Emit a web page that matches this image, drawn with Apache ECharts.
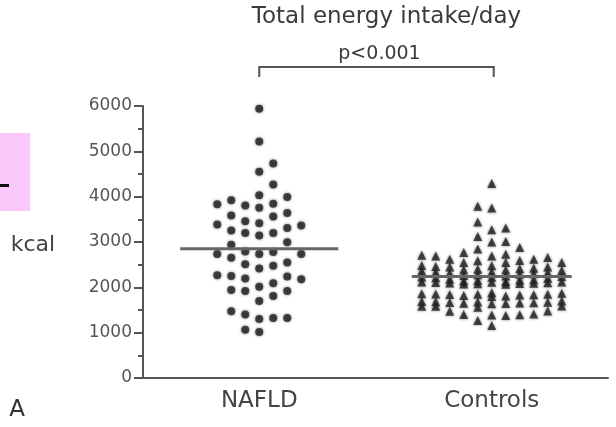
<!DOCTYPE html>
<html>
<head>
<meta charset="utf-8">
<script src="https://cdn.jsdelivr.net/npm/echarts@6/dist/echarts.min.js"></script>
<style>html,body{margin:0;padding:0;background:#fff;}#c{width:616px;height:427px;}</style>
</head>
<body>
<div id="c"></div>
<script>
// ---- data ----
const categories = ['NAFLD', 'Controls'];
const yTicks = [0, 1000, 2000, 3000, 4000, 5000, 6000];
const nafldValues = [5940, 5215, 4733, 4548, 4267, 3993, 3807, 3844, 3919, 4030, 3756, 3830,
  3563, 3585, 3637, 3415, 3252, 3363, 3200, 3311, 3385, 3141, 3459, 3200, 2941, 2993,
  2780, 2650, 2733, 2733, 2733, 2793, 2511, 2415, 2474, 2548, 2252, 2267, 2193, 2089,
  1919, 1941, 2015, 2178, 1807, 2237, 1919, 1696, 1400, 1326, 1304, 1326, 1474, 1015, 1067];
const controlsValues = [4290, 3790, 3750, 3440, 3310, 3270, 3120, 3010, 3000, 2880, 2845,
  2770, 2730, 2710, 2690, 2690, 2660, 2620, 2620, 2590, 2585, 2550, 2550, 2550, 2480,
  2475, 2460, 2450, 2450,
  2420, 2410, 2400, 2390, 2380, 2370, 2360,
  2340, 2330, 2320, 2310, 2300, 2290, 2280,
  2260, 2250, 2240, 2230, 2220, 2210, 2200,
  2180, 2170, 2160, 2150, 2140, 2130,
  2120, 2115, 2110, 2105, 2100, 2095, 2090, 2085, 2080, 2075, 2070,
  1880, 1870, 1860, 1855, 1850, 1845, 1840, 1835, 1830, 1820, 1810, 1800,
  1700, 1690, 1680, 1675, 1670, 1665, 1660, 1655, 1650, 1645, 1640,
  1590, 1585, 1580, 1560, 1480, 1470, 1410, 1400, 1395, 1390, 1380,
  1270, 1160];
const groupMeans = [2850, 2240];
const titleText = 'Total energy intake/day';
const pText = 'p<0.001';
const yName = 'kcal';
const panelLabel = 'A';

// ---- beeswarm layout (column offsets computed from the values) ----
function swarm(values, gap, maxK) {
  const sorted = values.slice().sort((a, b) => a - b);
  const cols = {};
  const out = [];
  let flip = 1;
  sorted.forEach(v => {
    const cands = [0];
    for (let k = 1; k <= maxK; k++) cands.push(flip * k, -flip * k);
    flip = -flip;
    let best = null, bestD = -1;
    for (const k of cands) {
      const arr = cols[k] || [];
      let d = Infinity;
      arr.forEach(u => { d = Math.min(d, Math.abs(u - v)); });
      if (d >= gap) { best = k; bestD = d; break; }
      if (d > bestD) { bestD = d; best = k; }
    }
    (cols[best] = cols[best] || []).push(v);
    out.push([best, v]);
  });
  return out;
}
const colStep = 0.0602;
function place(values, gi, gap, maxK) {
  return swarm(values, gap, maxK).map(p => [gi + p[0] * colStep, p[1]]);
}

const FONT = 'DejaVu Sans';
const AX = '#555';
const chart = echarts.init(document.getElementById('c'), null, { renderer: 'canvas' });
const option = {
  animation: false,
  backgroundColor: '#fff',
  grid: { left: 143, right: 8, top: 106, bottom: 49 },
  xAxis: [
    {
      type: 'category', data: categories, boundaryGap: true,
      axisLine: { lineStyle: { color: AX, width: 2 } },
      axisTick: { alignWithLabel: true, length: 6, lineStyle: { color: AX, width: 2 } },
      axisLabel: { fontSize: 23, color: '#444', margin: 12, fontFamily: FONT },
      splitLine: { show: false }
    },
    { type: 'value', min: -0.5, max: 1.5, show: false, splitLine: { show: false } }
  ],
  yAxis: {
    type: 'value', min: yTicks[0], max: yTicks[yTicks.length - 1], interval: 1000,
    axisLine: { show: true, onZero: false, lineStyle: { color: AX, width: 2 } },
    axisTick: { show: true, length: 9, lineStyle: { color: AX, width: 2 } },
    minorTick: { show: true, splitNumber: 2, length: 5, lineStyle: { color: AX, width: 2 } },
    splitLine: { show: false },
    axisLabel: { fontSize: 17, color: '#555', margin: 11, fontFamily: FONT, formatter: v => String(v) }
  },
  series: [
    {
      type: 'scatter', xAxisIndex: 1, data: place(nafldValues, 0, 270, 3),
      symbol: 'circle', symbolSize: 8,
      itemStyle: { color: '#222', shadowBlur: 3, shadowColor: 'rgba(0,0,0,0.6)' }, z: 3
    },
    {
      type: 'scatter', xAxisIndex: 1, data: place(controlsValues, 1, 230, 5),
      symbol: 'triangle', symbolSize: 9,
      itemStyle: { color: '#222', shadowBlur: 3, shadowColor: 'rgba(0,0,0,0.6)' }, z: 3
    },
    {
      type: 'line', xAxisIndex: 1, data: [[-0.34, groupMeans[0]], [0.34, groupMeans[0]]],
      symbol: 'none', lineStyle: { color: '#666', width: 3 }, z: 4, silent: true
    },
    {
      type: 'line', xAxisIndex: 1, data: [[1 - 0.344, groupMeans[1]], [1 + 0.344, groupMeans[1]]],
      symbol: 'none', lineStyle: { color: '#666', width: 3 }, z: 4, silent: true
    }
  ]
};
chart.setOption(option);

const x0 = chart.convertToPixel({ xAxisIndex: 1 }, 0);
const x1 = chart.convertToPixel({ xAxisIndex: 1 }, 1);
chart.setOption({
  graphic: [
    { type: 'rect', shape: { x: 0, y: 133, width: 30, height: 78 }, style: { fill: '#fcc8fc' } },
    { type: 'rect', shape: { x: 0, y: 184, width: 9, height: 3 }, style: { fill: '#111' } },
    { type: 'text', x: (x0 + x1) / 2 + 11, y: 17, style: { text: titleText, fontSize: 23, fontFamily: FONT, fill: '#3a3a3a', textAlign: 'center', textVerticalAlign: 'middle' } },
    { type: 'text', x: (x0 + x1) / 2 + 4, y: 54, style: { text: pText, fontSize: 19, fontFamily: FONT, fill: '#3a3a3a', textAlign: 'center', textVerticalAlign: 'middle' } },
    { type: 'polyline', shape: { points: [[x0, 77], [x0, 67], [x1 + 2, 67], [x1 + 2, 77]] }, style: { stroke: '#555', lineWidth: 2, fill: null } },
    { type: 'text', x: 33, y: 245, style: { text: yName, fontSize: 22, fontFamily: FONT, fill: '#444', textAlign: 'center', textVerticalAlign: 'middle' } },
    { type: 'text', x: 17, y: 410, style: { text: panelLabel, fontSize: 23, fontFamily: FONT, fill: '#333', textAlign: 'center', textVerticalAlign: 'middle' } }
  ]
});
</script>
</body>
</html>
